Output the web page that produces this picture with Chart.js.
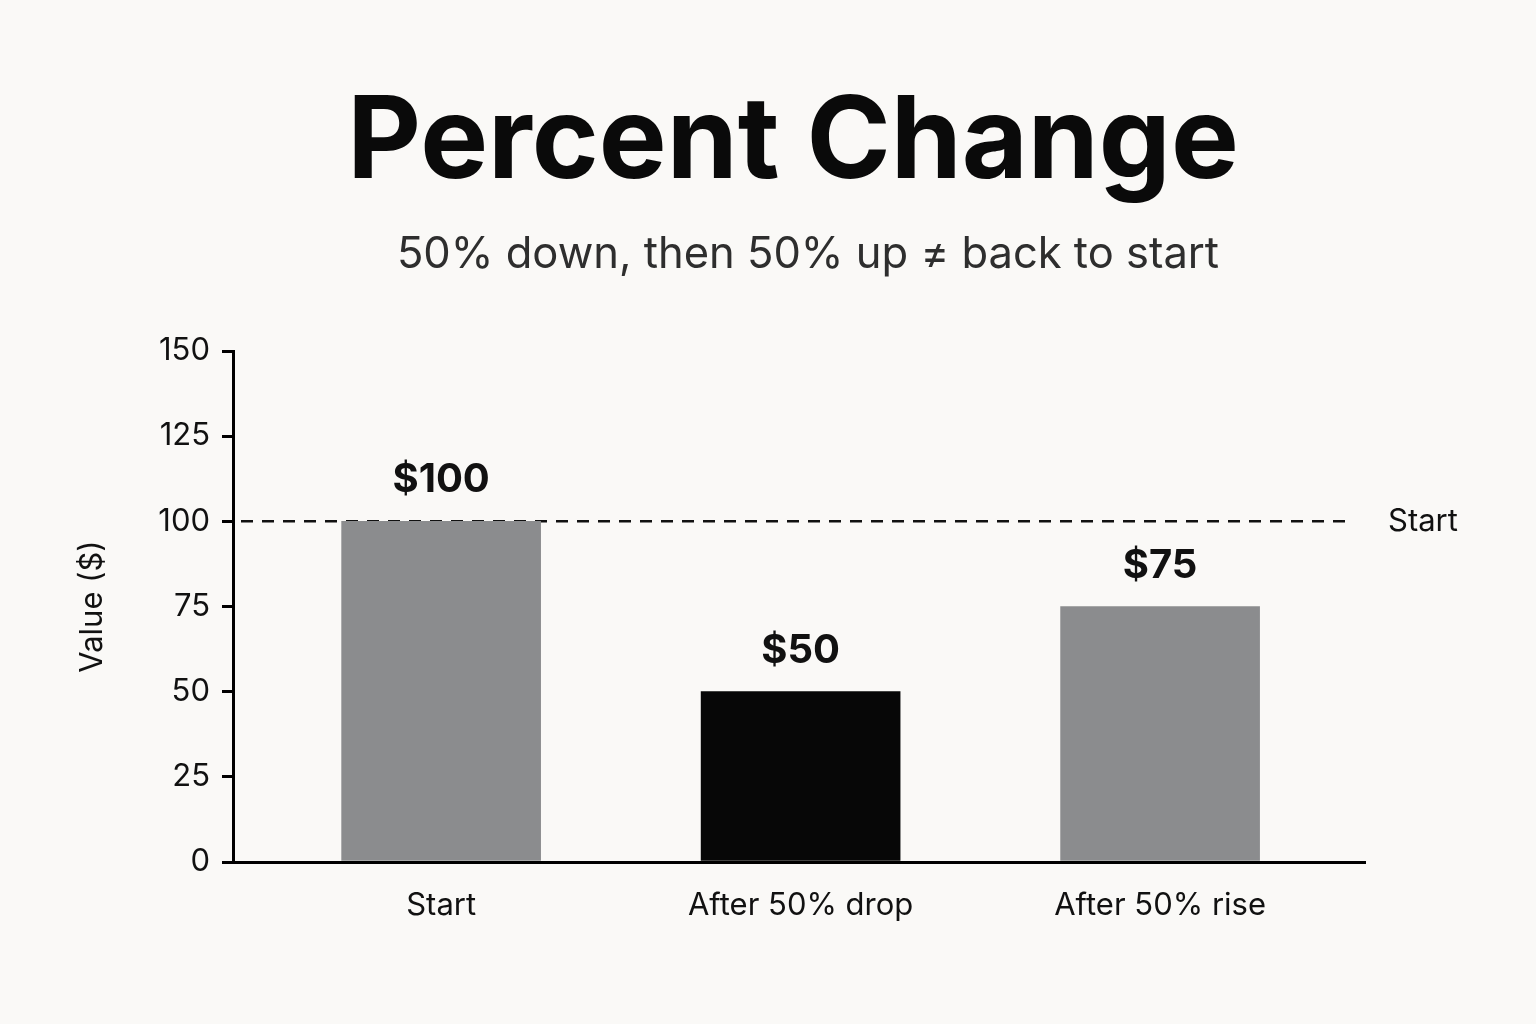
<!DOCTYPE html>
<html>
<head>
<meta charset="utf-8">
<script src="https://cdn.jsdelivr.net/npm/chart.js@4"></script>
<style>
html,body{margin:0;padding:0;background:#faf9f7;}
#wrap{width:1536px;height:1024px;}
</style>
</head>
<body>
<div id="wrap"><canvas id="pctChart" width="1536" height="1024"></canvas></div>
<script>
/* ================= DATA ================= */

const categories=["Start","After 50% drop","After 50% rise"];
const values=[100,50,75];
const barColors=["#8b8c8e","#070707","#8b8c8e"];
const yTicks=[0,25,50,75,100,125,150];
const refValue=100;
const refLabel="Start";

const titleText="Percent Change";
const subtitleText="50% down, then 50% up \u2260 back to start";
const yTitle="Value ($)";

const FONT="Inter, 'Noto Sans', sans-serif";


/* ================= PLUGINS ================= */

// title + subtitle drawn by hand (they sit right of the canvas centre)
const headingPlugin={
id:"heading",
afterDraw(chart){
const {ctx}=chart;
ctx.save();
ctx.textAlign="center";
ctx.textBaseline="alphabetic";
ctx.fillStyle="#0a0a0a";
ctx.font="bold 114px "+FONT;
ctx.fillText(titleText,793,178);
ctx.fillStyle="#2e2e2e";
ctx.font="43.5px "+FONT;
ctx.fillText(subtitleText,808,268);
ctx.restore();
}
};

// dashed reference line, drawn under the bars
const refLinePlugin={
id:"refLine",
beforeDatasetsDraw(chart){
const {ctx,chartArea}=chart;
const y=chart.scales.y.getPixelForValue(refValue);
ctx.save();
ctx.strokeStyle="#111";
ctx.lineWidth=2.5;
ctx.setLineDash([12,9]);
ctx.beginPath();
ctx.moveTo(chartArea.left+8,y);
ctx.lineTo(chartArea.right-12,y);
ctx.stroke();
ctx.setLineDash([]);
ctx.fillStyle="#111";
ctx.font="31px "+FONT;
ctx.textAlign="left";
ctx.textBaseline="middle";
ctx.fillText(refLabel,chartArea.right+23,y);
ctx.restore();
}
};

// "$100" style labels above bars
const valueLabelPlugin={
id:"valueLabels",
afterDatasetsDraw(chart){
const {ctx}=chart;
const meta=chart.getDatasetMeta(0);
ctx.save();
ctx.fillStyle="#111";
ctx.font="bold 40px "+FONT;
ctx.textAlign="center";
ctx.textBaseline="alphabetic";
meta.data.forEach((bar,i)=>{
ctx.fillText("$"+values[i],bar.x,bar.y-29);
});
ctx.restore();
}
};


/* ================= CHART ================= */

// linear x so the bar centres can sit where the reference puts them
const points=values.map((v,i)=>({x:i,y:v}));

new Chart(document.getElementById("pctChart"),{
type:"bar",
data:{
datasets:[{
data:points,
backgroundColor:barColors,
borderWidth:0,
barThickness:199
}]
},
options:{
responsive:false,
animation:false,
layout:{padding:{left:0,right:171,top:351,bottom:62}},
plugins:{
legend:{display:false},
tooltip:{enabled:false},
title:{display:false},
subtitle:{display:false}
},
scales:{
x:{
type:"linear",
offset:false,
min:-0.579,
max:2.57,
afterBuildTicks:s=>{s.ticks=categories.map((c,i)=>({value:i}));},
afterFit:s=>{s.height=100;},
grid:{display:false},
border:{display:true,color:"#000",width:3},
ticks:{
color:"#111",
font:{family:FONT,size:31},
padding:17,
maxRotation:0,
callback:v=>categories[v]
}
},
y:{
min:0,
max:150,
afterBuildTicks:s=>{s.ticks=yTicks.map(v=>({value:v}));},
afterFit:s=>{s.width=233;},
grid:{drawOnChartArea:false,drawTicks:true,tickLength:11,color:"#000",lineWidth:3},
border:{display:true,color:"#000",width:3},
ticks:{
color:"#111",
font:{family:FONT,size:31},
padding:12
},
title:{
display:true,
text:yTitle,
color:"#111",
font:{family:FONT,size:31,lineHeight:1.2},
padding:{top:74,bottom:0}
}
}
}
},
plugins:[refLinePlugin,valueLabelPlugin,headingPlugin]
});
</script>
</body>
</html>
